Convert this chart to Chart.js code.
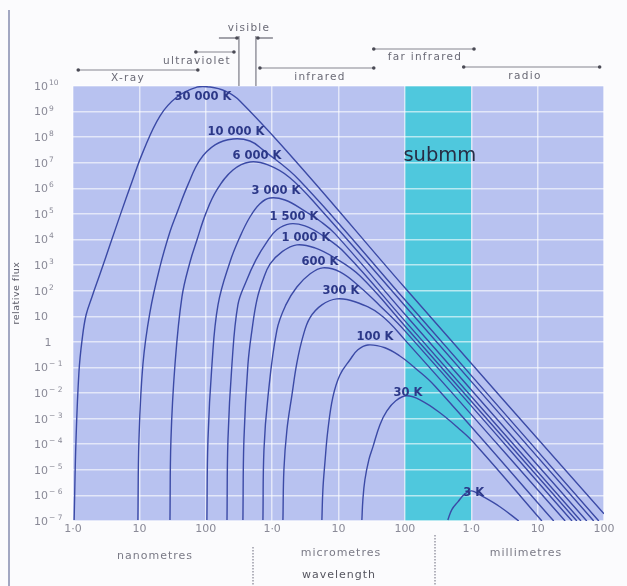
<!DOCTYPE html>
<html>
<head>
<meta charset="utf-8">
<script src="https://cdn.jsdelivr.net/npm/chart.js@4.4.1/dist/chart.umd.min.js"></script>
<style>
  html, body { margin: 0; padding: 0; background: #fbfbfd; }
  canvas { display: block; }
</style>
</head>
<body>
<canvas id="chart" width="627" height="586"></canvas>
<script>
// axes: wavelength in nm, relative flux
const xTickValues = [1, 10, 100, 1e3, 1e4, 1e5, 1e6, 1e7, 1e8];
const xTickLabels = ['1·0', '10', '100', '1·0', '10', '100', '1·0', '10', '100'];
const yTickValues = [1e10, 1e9, 1e8, 1e7, 1e6, 1e5, 1e4, 1e3, 1e2, 10, 1, 1e-1, 1e-2, 1e-3, 1e-4, 1e-5, 1e-6, 1e-7];
const yTickLabels = [['10', '10'], ['10', '9'], ['10', '8'], ['10', '7'], ['10', '6'], ['10', '5'], ['10', '4'],
  ['10', '3'], ['10', '2'], ['10', ''], ['1', ''], ['10', '− 1'], ['10', '− 2'], ['10', '− 3'], ['10', '− 4'],
  ['10', '− 5'], ['10', '− 6'], ['10', '− 7']];

// black body curves [wavelength nm, flux]
const curve30000K = [[1.04, 1.1e-7], [1.11, 1.5e-4], [1.23, 6.8e-2], [1.37, 1.2], [1.57, 11], [1.93, 57], [2.55, 450],
  [3.61, 6.2e3], [5.28, 1.1e5], [7.74, 1.8e6], [11.3, 2.6e7], [20.4, 6.7e8], [36.8, 3.7e9], [73.7, 9.1e9], [116, 9.1e9],
  [195, 6.4e9], [327, 2.6e9], [2620, 7.5e6], [1.0e5, 130], [1.0e8, 1.9e-7]];
const curve10000K = [[9.5, 1.1e-7], [9.86, 1.5e-4], [11.3, 0.13], [14.4, 14], [20.4, 850], [28.9, 2.0e4], [36.8, 1.1e5],
  [54, 1.4e6], [81.8, 1.3e7], [138, 5.0e7], [257, 8.5e7], [463, 7.1e7], [727, 3.2e7], [2620, 2.0e6], [1.0e5, 44],
  [8.35e7, 1.0e-7]];
const curve6000K = [[28.9, 1.1e-7], [29.9, 1.5e-4], [34.4, 0.13], [43.8, 57], [57.8, 1.3e3], [73.7, 9.6e3], [101, 1.1e5],
  [147, 8.7e5], [257, 5.2e6], [463, 1.07e7], [865, 8.2e6], [1850, 2.6e6], [5250, 1.6e5], [1.0e5, 26], [7.0e7, 1.0e-7]];
const curve3000K = [[104, 1.1e-7], [108, 1.5e-4], [124, 0.13], [153, 28], [231, 1.3e3], [327, 1.26e4], [463, 7.6e4],
  [655, 2.5e5], [927, 4.2e5], [1560, 3.5e5], [3120, 1.3e5], [5250, 5.3e4], [8830, 1.7e4], [1.0e5, 12], [5.5e7, 1.0e-7]];
const curve1500K = [[209, 1.1e-7], [216, 1.5e-4], [248, 0.13], [305, 28], [403, 220], [570, 1.6e3], [835, 8.1e3],
  [1180, 2.4e4], [1850, 4.1e4], [3120, 3.4e4], [5620, 1.5e4], [1.25e4, 3.0e3], [1.0e5, 6.6], [4.5e7, 1.0e-7]];
const curve1000K = [[363, 1.1e-7], [376, 1.5e-4], [432, 0.13], [497, 2.9], [590, 44], [727, 260], [927, 1.1e3],
  [1405, 3.3e3], [2360, 6.2e3], [4410, 4.7e3], [8830, 1.9e3], [2.1e4, 380], [1.0e5, 4.2], [3.9e7, 1.0e-7]];
const curve600K = [[727, 1.1e-7], [753, 6.0e-5], [865, 7.1e-3], [1180, 2.9], [1610, 28], [2360, 140], [3710, 450],
  [5820, 780], [1.05e4, 540], [2.1e4, 140], [4.2e4, 26], [1.0e5, 2.7], [3.3e7, 1.0e-7]];
const curve300K = [[1455, 1.1e-7], [1505, 1.0e-5], [1670, 3.6e-4], [1990, 8.5e-3], [2360, 0.15], [2910, 1.6],
  [3710, 8.7], [5620, 28], [9460, 48], [1.77e4, 37], [4.2e4, 12], [1.0e5, 1.2], [2.6e7, 1.0e-7]];
const curve100K = [[5620, 1.1e-7], [5820, 1.7e-6], [6240, 1.9e-5], [6920, 3.6e-4], [8240, 7.1e-3], [1.05e4, 5.1e-2],
  [1.49e4, 0.2], [1.96e4, 0.49], [2.77e4, 0.76], [5.0e4, 0.59], [8.4e4, 0.28], [1.42e5, 9.6e-2], [2.83e5, 1.9e-2],
  [1.75e7, 1.0e-7]];
const curve30K = [[2.25e4, 1.1e-7], [2.33e4, 6.8e-7], [2.5e4, 4.1e-6], [2.87e4, 2.5e-5], [3.3e4, 7.9e-5], [4.2e4, 5.7e-4],
  [5.36e4, 2.0e-3], [7.3e4, 5.0e-3], [1.07e5, 7.8e-3], [1.8e5, 5.0e-3], [3.37e5, 1.7e-3], [6.3e5, 4.4e-4],
  [1.13e6, 1.05e-4], [1.16e7, 1.0e-7]];
const curve3K = [[4.44e5, 1.1e-7], [5.1e5, 2.8e-7], [6.3e5, 5.6e-7], [8.0e5, 1.15e-6], [1.02e6, 1.5e-6],
  [1.35e6, 1.05e-6], [2.7e6, 3.6e-7], [5.2e6, 1.0e-7]];

const curves = [curve30000K, curve10000K, curve6000K, curve3000K, curve1500K, curve1000K,
  curve600K, curve300K, curve100K, curve30K, curve3K];

// temperature labels and where they sit (nm, flux)
const tempLabels = ['30 000 K', '10 000 K', '6 000 K', '3 000 K', '1 500 K', '1 000 K', '600 K', '300 K', '100 K', '30 K', '3 K'];
const tempLabelWavelength = [90.8, 285, 590, 1140, 2130, 3230, 5250, 1.09e4, 3.53e4, 1.11e5, 1.09e6];
const tempLabelFlux = [3.7e9, 1.6e8, 1.85e7, 7.9e5, 7.6e4, 1.16e4, 1.33e3, 98, 1.57, 1.0e-2, 1.26e-6];

// submillimetre window
const submmBand = [1e5, 1e6];
const submmLabelAt = [3.37e5, 1.85e7];

// spectral regions along the top (nm)
const bandNames = ['X-ray', 'ultraviolet', 'visible', 'infrared', 'far infrared', 'radio'];
const bandFrom = [1.2, 71, 316, 655, 3.4e4, 7.7e5];
const bandTo = [76, 266, 570, 3.4e4, 1.1e6, 8.6e7];

const FONT = '"DejaVu Sans", "Liberation Sans", sans-serif';

function dot(ctx, x, y) {
    ctx.beginPath();
    ctx.arc(x, y, 1.8, 0, Math.PI * 2);
    ctx.fill();
}

// panel background and submm band
const panelPlugin = {
    id: 'panel',
    beforeDraw(chart) {
        const { ctx, chartArea: a } = chart;
        const x = chart.scales.x;
        ctx.save();
        ctx.fillStyle = '#b8c2f0';
        ctx.fillRect(a.left, a.top, a.right - a.left, a.bottom - a.top);
        const x1 = x.getPixelForValue(submmBand[0]);
        const x2 = x.getPixelForValue(submmBand[1]);
        ctx.fillStyle = '#4fc8dd';
        ctx.fillRect(x1, a.top, x2 - x1, a.bottom - a.top);
        ctx.restore();
    }
};

// curve labels on top of lines
const labelPlugin = {
    id: 'labels',
    afterDatasetsDraw(chart) {
        const { ctx } = chart;
        const x = chart.scales.x, y = chart.scales.y;
        ctx.save();
        ctx.textAlign = 'center';
        ctx.textBaseline = 'middle';
        ctx.fillStyle = '#2c3888';
        ctx.font = 'bold 11.5px ' + FONT;
        tempLabels.forEach((t, i) => {
            ctx.fillText(t, x.getPixelForValue(tempLabelWavelength[i]), y.getPixelForValue(tempLabelFlux[i]));
        });
        ctx.fillStyle = '#272c45';
        ctx.font = '19.5px ' + FONT;
        ctx.fillText('submm', x.getPixelForValue(submmLabelAt[0]), y.getPixelForValue(submmLabelAt[1]));
        ctx.restore();
    }
};

// axis texts, region arrows, frame
const textPlugin = {
    id: 'texts',
    afterDraw(chart) {
        const { ctx, chartArea: a } = chart;
        const x = chart.scales.x, y = chart.scales.y;
        ctx.save();

        // left edge line of the slide
        ctx.strokeStyle = '#a2a7c2';
        ctx.lineWidth = 2;
        ctx.beginPath();
        ctx.moveTo(9, 10);
        ctx.lineTo(9, 586);
        ctx.stroke();

        // y tick labels
        ctx.fillStyle = '#8a8a97';
        ctx.textBaseline = 'middle';
        yTickValues.forEach((v, i) => {
            const py = y.getPixelForValue(v);
            const [base, exp] = yTickLabels[i];
            ctx.font = '11px ' + FONT;
            if (base === '1') {
                ctx.textAlign = 'center';
                ctx.fillText(base, 48, py + 1);
                return;
            }
            ctx.textAlign = 'left';
            ctx.fillText(base, 34, py + 1);
            if (exp) {
                const w = ctx.measureText(base).width;
                ctx.font = '7.5px ' + FONT;
                ctx.fillText(exp, 34 + w + 1, py - 3);
            }
        });

        // x tick labels
        ctx.font = '11px ' + FONT;
        ctx.textAlign = 'center';
        xTickValues.forEach((v, i) => {
            ctx.fillText(xTickLabels[i], x.getPixelForValue(v), a.bottom + 8);
        });

        // y title
        ctx.save();
        ctx.translate(17, 293);
        ctx.rotate(-Math.PI / 2);
        ctx.fillStyle = '#5c5c68';
        ctx.font = '9.5px ' + FONT;
        ctx.letterSpacing = '0.5px';
        ctx.fillText('relative flux', 0, 0);
        ctx.restore();

        // unit names under the axis
        ctx.fillStyle = '#7a7a86';
        ctx.font = '11px ' + FONT;
        ctx.letterSpacing = '1px';
        ctx.fillText('nanometres', 155, 556);
        ctx.fillText('micrometres', 341, 553);
        ctx.fillText('millimetres', 526, 553);
        ctx.fillStyle = '#55555f';
        ctx.fillText('wavelength', 339, 575);
        ctx.letterSpacing = '0px';

        ctx.strokeStyle = '#9a9aa6';
        ctx.lineWidth = 1.5;
        ctx.setLineDash([1.5, 1.5]);
        ctx.beginPath();
        ctx.moveTo(253, 547); ctx.lineTo(253, 586);
        ctx.moveTo(435, 535); ctx.lineTo(435, 586);
        ctx.stroke();
        ctx.setLineDash([]);

        // spectral regions
        const rows = {
            'X-ray': { line: 70, text: 78, tx: 128 },
            'ultraviolet': { line: 52, text: 61, tx: 197 },
            'visible': { line: 38, text: 28, tx: 249 },
            'infrared': { line: 68, text: 77, tx: 320 },
            'far infrared': { line: 49, text: 57, tx: 425 },
            'radio': { line: 67, text: 76, tx: 525 }
        };
        ctx.lineWidth = 1;
        bandNames.forEach((name, i) => {
            const r = rows[name];
            const x1 = x.getPixelForValue(bandFrom[i]);
            const x2 = x.getPixelForValue(bandTo[i]);
            ctx.strokeStyle = '#85858f';
            ctx.fillStyle = '#4a4a55';
            if (name === 'visible') {
                ctx.lineWidth = 1.3;
                ctx.beginPath();
                ctx.moveTo(x1, r.line - 2); ctx.lineTo(x1, a.top);
                ctx.moveTo(x2, r.line - 2); ctx.lineTo(x2, a.top);
                ctx.moveTo(x1 - 20, r.line); ctx.lineTo(x1, r.line);
                ctx.moveTo(x2, r.line); ctx.lineTo(x2 + 17, r.line);
                ctx.stroke();
                dot(ctx, x1 - 2, r.line);
                dot(ctx, x2 + 2, r.line);
                ctx.lineWidth = 1;
            } else {
                ctx.beginPath();
                ctx.moveTo(x1, r.line); ctx.lineTo(x2, r.line);
                ctx.stroke();
                dot(ctx, x1, r.line);
                dot(ctx, x2, r.line);
            }
            ctx.fillStyle = '#6a6a76';
            ctx.font = '10.5px ' + FONT;
            ctx.letterSpacing = '1.3px';
            ctx.textAlign = 'center';
            ctx.fillText(name, r.tx, r.text);
            ctx.letterSpacing = '0px';
        });

        ctx.restore();
    }
};

const ctx = document.getElementById('chart').getContext('2d');
const chart = new Chart(ctx, {
    type: 'scatter',
    data: {
        datasets: curves.map((c, i) => ({
            label: tempLabels[i],
            data: c.map(p => ({ x: p[0], y: p[1] })),
            showLine: true,
            borderColor: '#3b4aa6',
            borderWidth: 1.4,
            pointRadius: 0,
            tension: 0.4,
            fill: false
        }))
    },
    options: {
        responsive: false,
        animation: false,
        layout: { padding: { left: 0, right: 23, top: 86, bottom: 0 } },
        plugins: {
            legend: { display: false },
            tooltip: { enabled: false }
        },
        scales: {
            x: {
                type: 'logarithmic',
                min: 1,
                max: 1e8,
                afterBuildTicks: axis => { axis.ticks = xTickValues.map(v => ({ value: v })); },
                afterFit: s => { s.height = 65; },
                ticks: { display: false },
                grid: { color: 'rgba(255,255,255,0.6)', lineWidth: 1.5, drawTicks: false },
                border: { display: false }
            },
            y: {
                type: 'logarithmic',
                min: 1e-7,
                max: 1e10,
                afterBuildTicks: axis => { axis.ticks = yTickValues.map(v => ({ value: v })); },
                afterFit: s => { s.width = 73; },
                ticks: { display: false },
                grid: { color: 'rgba(255,255,255,0.6)', lineWidth: 1.5, drawTicks: false },
                border: { display: false }
            }
        }
    },
    plugins: [panelPlugin, labelPlugin, textPlugin]
});
</script>
</body>
</html>
